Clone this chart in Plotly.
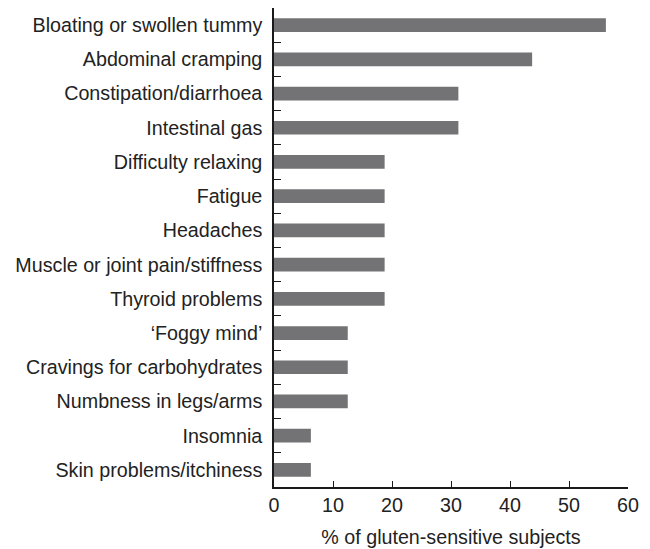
import plotly.graph_objects as go

categories = [
    "Bloating or swollen tummy",
    "Abdominal cramping",
    "Constipation/diarrhoea",
    "Intestinal gas",
    "Difficulty relaxing",
    "Fatigue",
    "Headaches",
    "Muscle or joint pain/stiffness",
    "Thyroid problems",
    "\u2018Foggy mind\u2019",
    "Cravings for carbohydrates",
    "Numbness in legs/arms",
    "Insomnia",
    "Skin problems/itchiness",
]
values = [56.25, 43.75, 31.25, 31.25, 18.75, 18.75, 18.75, 18.75, 18.75,
          12.5, 12.5, 12.5, 6.25, 6.25]
x_ticks = [0, 10, 20, 30, 40, 50, 60]
x_title = "% of gluten-sensitive subjects"

fig = go.Figure(go.Bar(
    x=values, y=categories, orientation="h",
    marker=dict(color="#737375", line=dict(width=0)),
    width=0.4,
))

font = dict(family="Liberation Sans, Arial, sans-serif", size=19.7, color="#222222")

fig.update_layout(
    width=650, height=549,
    margin=dict(l=274, r=22, t=8, b=62, autoexpand=False),
    plot_bgcolor="white", paper_bgcolor="white",
    font=font,
    showlegend=False,
    bargap=0.6,
)
fig.update_xaxes(
    range=[0, 60], tickvals=x_ticks, ticks="inside", ticklen=6,
    tickcolor="#1a1a1a", tickwidth=1.2,
    showline=True, linecolor="#1a1a1a", linewidth=1.5,
    showgrid=False, zeroline=False, automargin=False,
    title=dict(text=x_title, standoff=15, font=font),
)
fig.update_yaxes(
    categoryorder="array", categoryarray=categories, autorange="reversed",
    ticks="inside", tickson="boundaries", ticklen=7,
    tickcolor="#1a1a1a", tickwidth=1.2,
    showline=True, linecolor="#1a1a1a", linewidth=1.5,
    showgrid=False, zeroline=False, automargin=False,
    ticklabelstandoff=6,
)

fig.write_html(
    "out.html",
    config={"displayModeBar": False},
    post_script="document.body.style.margin='0';document.body.style.overflow='hidden';",
)
